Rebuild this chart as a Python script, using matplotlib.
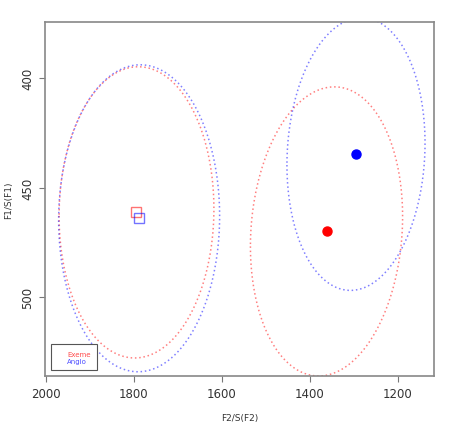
import matplotlib
matplotlib.use("Agg")
import matplotlib.pyplot as plt
import numpy as np

# group means (F2, F1) for the two speaker groups
groups = ["Exeme", "Anglo"]
colors = ["red", "blue"]

# vowel 1 (squares) and vowel 2 (filled dots)
v1_f2 = [1794, 1788]
v1_f1 = [461.3, 464.0]
v2_f2 = [1362, 1295]
v2_f1 = [470.0, 434.7]

# ellipse sizes: half-width in F2, half-height in F1, small tilt term
ell1_a = [176, 183]
ell1_b = [66.4, 70.0]
ell1_k = [1.6, 1.0]
ell2_a = [173, 157]
ell2_b = [65.6, 62.0]
ell2_k = [6.8, 5.0]

t = np.linspace(0, 2 * np.pi, 400)

fig = plt.figure(figsize=(4.64, 4.31), dpi=100)
ax = fig.add_axes([0.097, 0.125, 0.838, 0.822])

for i in range(2):
    c = colors[i]
    # ellipse around vowel 1
    x = v1_f2[i] + ell1_a[i] * np.cos(t)
    y = v1_f1[i] + ell1_b[i] * np.sin(t) + ell1_k[i] * np.cos(t)
    ax.plot(x, y, color=c, alpha=0.5, lw=1.1, linestyle=(0, (1, 1.8)))
    # ellipse around vowel 2
    x = v2_f2[i] + ell2_a[i] * np.cos(t)
    y = v2_f1[i] + ell2_b[i] * np.sin(t) + ell2_k[i] * np.cos(t)
    ax.plot(x, y, color=c, alpha=0.5, lw=1.1, linestyle=(0, (1, 1.8)))

    ax.plot(v1_f2[i], v1_f1[i], marker="s", ms=7, mfc="none", mec=c,
            mew=1.0, alpha=0.55, linestyle="none")
    ax.plot(v2_f2[i], v2_f1[i], marker="o", ms=6.5, color=c, linestyle="none")

ax.set_xlim(2002, 1118)
ax.set_ylim(536, 374.4)

ax.set_xticks([2000, 1800, 1600, 1400, 1200])
ax.set_yticks([400, 450, 500])
ax.tick_params(labelsize=8.5, length=4, color="#777777", labelcolor="#333333")
for lab in ax.get_yticklabels():
    lab.set_rotation(90)
    lab.set_va("center")
for s in ax.spines.values():
    s.set_color("#888888")
    s.set_linewidth(1.2)

ax.set_xlabel("F2/S(F2)", fontsize=6.5, color="#333333", labelpad=10)
ax.set_ylabel("F1/S(F1)", fontsize=6.5, color="#333333", labelpad=6)

# legend with coloured text only
leg = ax.legend([plt.Line2D([], [], linestyle="none")] * 2, groups,
                loc="lower left", fontsize=5, handlelength=1.1, handletextpad=0.3,
                fancybox=False, edgecolor="#555555", framealpha=1,
                borderpad=0.9, labelspacing=0.15, borderaxespad=0.9)
leg.get_frame().set_linewidth(0.8)
for txt, c in zip(leg.get_texts(), colors):
    txt.set_color(c)
    txt.set_alpha(0.7)

fig.savefig("out.png", dpi=100)
